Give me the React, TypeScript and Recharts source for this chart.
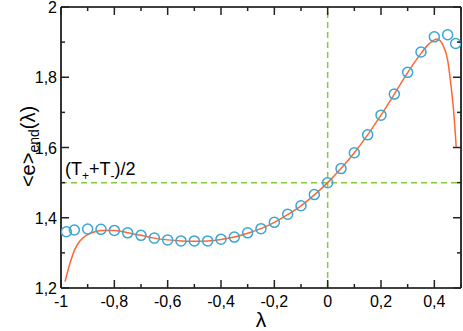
import React from "react";
import { ComposedChart, Line, Scatter, XAxis, YAxis, ReferenceLine } from "recharts";

// Simulation points (open circles)
const pointX = [-0.98, -0.95, -0.9, -0.85, -0.8, -0.75, -0.7, -0.65, -0.6, -0.55, -0.5, -0.45, -0.4, -0.35, -0.3, -0.25, -0.2, -0.15, -0.1, -0.05, 0, 0.05, 0.1, 0.15, 0.2, 0.25, 0.3, 0.35, 0.4, 0.45, 0.48];
const pointY = [1.360, 1.365, 1.368, 1.367, 1.364, 1.357, 1.350, 1.342, 1.337, 1.334, 1.334, 1.334, 1.339, 1.345, 1.357, 1.369, 1.387, 1.410, 1.434, 1.466, 1.500, 1.540, 1.585, 1.636, 1.692, 1.752, 1.814, 1.872, 1.915, 1.921, 1.896];

// Theory curve (orange line)
const curveX = [-0.985, -0.966, -0.948, -0.93, -0.9, -0.873, -0.85, -0.8, -0.75, -0.7, -0.65, -0.6, -0.55, -0.5, -0.45, -0.4, -0.35, -0.3, -0.25, -0.2, -0.15, -0.1, -0.05, 0, 0.05, 0.1, 0.15, 0.2, 0.25, 0.3, 0.35, 0.38, 0.41, 0.432, 0.45, 0.463, 0.472, 0.482];
const curveY = [1.218, 1.271, 1.310, 1.333, 1.352, 1.360, 1.364, 1.364, 1.357, 1.350, 1.342, 1.337, 1.334, 1.333, 1.334, 1.338, 1.345, 1.356, 1.369, 1.387, 1.409, 1.434, 1.465, 1.500, 1.540, 1.585, 1.636, 1.692, 1.752, 1.813, 1.868, 1.895, 1.909, 1.892, 1.849, 1.773, 1.707, 1.602];

// Ticks
const xTicks = [-1, -0.9, -0.8, -0.7, -0.6, -0.5, -0.4, -0.3, -0.2, -0.1, 0, 0.1, 0.2, 0.3, 0.4, 0.5];
const xMajor = [-1, -0.8, -0.6, -0.4, -0.2, 0, 0.2, 0.4];
const xMajorLabels = ["-1", "-0,8", "-0,6", "-0,4", "-0,2", "0", "0,2", "0,4"];
const yTicks = [1.2, 1.3, 1.4, 1.5, 1.6, 1.7, 1.8, 1.9, 2.0];
const yMajor = [1.2, 1.4, 1.6, 1.8, 2.0];
const yMajorLabels = ["1,2", "1,4", "1,6", "1,8", "2"];

const points = pointX.map((x, i) => ({ x, y: pointY[i] }));
const curve = curveX.map((x, i) => ({ x, y: curveY[i] }));

const FONT = "'Liberation Sans', Arial, sans-serif";
const TICK_COLOR = "#222";

function majorIdx(list: number[], v: number) {
  return list.findIndex((m) => Math.abs(m - v) < 1e-6);
}

function makeTick(side: "bottom" | "top" | "left" | "right") {
  return (props: any) => {
    const { x, y, payload } = props;
    const v = payload.value;
    const isX = side === "bottom" || side === "top";
    const idx = majorIdx(isX ? xMajor : yMajor, v);
    const len = idx >= 0 ? 8 : 4;
    let line;
    if (side === "bottom") line = <line x1={x} y1={y} x2={x} y2={y - len} stroke={TICK_COLOR} strokeWidth={1.5} />;
    else if (side === "top") line = <line x1={x} y1={y} x2={x} y2={y + len} stroke={TICK_COLOR} strokeWidth={1.5} />;
    else if (side === "left") line = <line x1={x} y1={y} x2={x + len} y2={y} stroke={TICK_COLOR} strokeWidth={1.5} />;
    else line = <line x1={x} y1={y} x2={x - len} y2={y} stroke={TICK_COLOR} strokeWidth={1.5} />;
    let label = null;
    if (idx >= 0 && side === "bottom") {
      label = (
        <text x={x} y={y + 19} textAnchor="middle" fontSize={16} fontFamily={FONT} fill="#000">
          {xMajorLabels[idx]}
        </text>
      );
    } else if (idx >= 0 && side === "left") {
      label = (
        <text x={x - 4} y={y + 6} textAnchor="end" fontSize={16} fontFamily={FONT} fill="#000">
          {yMajorLabels[idx]}
        </text>
      );
    }
    return (
      <g>
        {line}
        {label}
      </g>
    );
  };
}

const YLabel = (props: any) => {
  const vb = props.viewBox || { x: 0, y: 7, width: 61, height: 281 };
  const cy = vb.y + vb.height / 2 - 1;
  return (
    <text transform={`translate(35, ${cy}) rotate(-90)`} textAnchor="middle" fontFamily={FONT} fill="#000">
      <tspan fontSize={20}>{"<e>"}</tspan>
      <tspan fontSize={14} dy={4}>end</tspan>
      <tspan fontSize={20} dy={-4}>(λ)</tspan>
    </text>
  );
};

const HalfLabel = (props: any) => {
  const vb = props.viewBox || { x: 61, y: 183 };
  return (
    <text x={vb.x + 4} y={vb.y - 8} fontFamily={FONT} fill="#000">
      <tspan fontSize={18}>(T</tspan>
      <tspan fontSize={12} dy={5}>+</tspan>
      <tspan fontSize={18} dy={-5}>+T</tspan>
      <tspan fontSize={12} dy={5}>-</tspan>
      <tspan fontSize={18} dy={-5}>)/2</tspan>
    </text>
  );
};

const CircleShape = (props: any) => (
  <circle cx={props.cx} cy={props.cy} r={5} fill="none" stroke="#3aa6d2" strokeWidth={1.5} />
);

export default function App() {
  return (
    <div style={{ position: "absolute", left: 0, top: 0, width: 463, height: 331, background: "#fff" }}>
      <ComposedChart width={463} height={331} margin={{ top: 6, right: 1, bottom: 0, left: 0 }}>
        <XAxis
          xAxisId="b"
          dataKey="x"
          type="number"
          domain={[-1, 0.5]}
          ticks={xTicks}
          interval={0}
          allowDataOverflow
          height={43}
          tickSize={0}
          tickMargin={0}
          tickLine={false}
          axisLine={{ stroke: "#000", strokeWidth: 1.6 }}
          tick={makeTick("bottom")}
          label={{ value: "λ", position: "insideBottom", offset: 4, fontSize: 21, fontFamily: FONT, fill: "#000" }}
        />
        <XAxis
          xAxisId="t"
          orientation="top"
          dataKey="x"
          type="number"
          domain={[-1, 0.5]}
          ticks={xTicks}
          interval={0}
          allowDataOverflow
          height={1}
          tickSize={0}
          tickMargin={0}
          tickLine={false}
          axisLine={{ stroke: "#000", strokeWidth: 1.6 }}
          tick={makeTick("top")}
        />
        <YAxis
          yAxisId="l"
          type="number"
          domain={[1.2, 2]}
          ticks={yTicks}
          interval={0}
          allowDataOverflow
          width={61}
          tickSize={0}
          tickMargin={0}
          tickLine={false}
          axisLine={{ stroke: "#000", strokeWidth: 1.6 }}
          tick={makeTick("left")}
          label={<YLabel />}
        />
        <YAxis
          yAxisId="r"
          orientation="right"
          type="number"
          domain={[1.2, 2]}
          ticks={yTicks}
          interval={0}
          allowDataOverflow
          width={1}
          tickSize={0}
          tickMargin={0}
          tickLine={false}
          axisLine={{ stroke: "#000", strokeWidth: 1.6 }}
          tick={makeTick("right")}
        />
        <ReferenceLine xAxisId="b" yAxisId="l" x={0} stroke="#82cc3c" strokeWidth={1.5} strokeDasharray="6 4" />
        <ReferenceLine
          xAxisId="b"
          yAxisId="l"
          y={1.5}
          stroke="#82cc3c"
          strokeWidth={1.5}
          strokeDasharray="6 4"
          label={<HalfLabel />}
        />
        <Line
          xAxisId="b"
          yAxisId="l"
          data={curve}
          dataKey="y"
          type="monotone"
          stroke="#ff6633"
          strokeWidth={1.5}
          dot={false}
          isAnimationActive={false}
        />
        <Scatter
          xAxisId="b"
          yAxisId="l"
          data={points}
          dataKey="y"
          shape={<CircleShape />}
          isAnimationActive={false}
        />
      </ComposedChart>
    </div>
  );
}
